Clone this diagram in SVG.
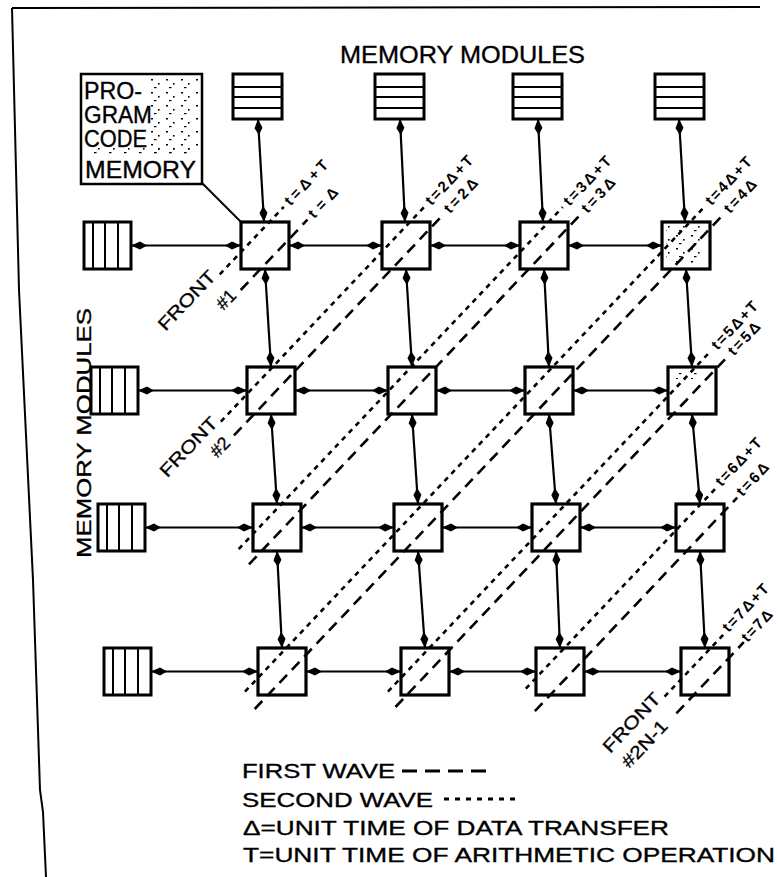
<svg xmlns="http://www.w3.org/2000/svg" width="778" height="877" viewBox="0 0 778 877">
<defs>
<style>
text{font-family:"Liberation Sans",Arial,Helvetica,sans-serif;fill:#000}
.frame{fill:none;stroke:#000;stroke-width:2}
.box{fill:#fff;stroke:#000;stroke-width:3.2}
.mod{fill:#fff;stroke:#000;stroke-width:3}
.stripe{stroke:#000;stroke-width:2;fill:none}
.conn{stroke:#000;stroke-width:2.2;fill:none;marker-start:url(#ah);marker-end:url(#ah)}
.w1{stroke:#000;stroke-width:2.6;fill:none;stroke-dasharray:11 7}
.w2{stroke:#000;stroke-width:2.6;fill:none;stroke-dasharray:5 5}
.lbl{font-size:15px;font-weight:bold}
.front{font-size:18px;stroke:#000;stroke-width:0.3}
.title{font-size:24px;stroke:#000;stroke-width:0.35}
.leg{font-size:21px;stroke:#000;stroke-width:0.35}
.pgm{font-size:23px;stroke:#000;stroke-width:0.35}
</style>
<marker id="ah" viewBox="-17 -5 18 10" refX="0" refY="0" markerWidth="18" markerHeight="10" markerUnits="userSpaceOnUse" orient="auto-start-reverse">
<path d="M0,0 L-9,-4 L-16,0 L-9,4 Z" fill="#000"/>
</marker>
<pattern id="stip" width="15" height="13" patternUnits="userSpaceOnUse">
<rect x="1" y="1" width="2" height="1.5" fill="#000"/>
<rect x="8" y="5" width="1.6" height="1.6" fill="#000"/>
<rect x="4" y="9" width="2.5" height="1.2" fill="#000"/>
</pattern>
</defs>

<g id="frame">
<polyline class="frame" points="12,8 760,7"/>
<polyline class="frame" points="12,8 19,290 33,580 40,790 43,812 46,877"/>
</g>

<text id="title-top" class="title" x="340" y="63" textLength="245" lengthAdjust="spacingAndGlyphs">MEMORY MODULES</text>
<text id="title-left" class="title" transform="translate(91 433) rotate(-90)" x="-125" y="0" style="font-size:21px" textLength="250" lengthAdjust="spacingAndGlyphs">MEMORY MODULES</text>

<g id="pgm-mem">
<rect x="81" y="74" width="121" height="110" fill="#fff" stroke="#000" stroke-width="2.5"/>
<rect x="145" y="78" width="54" height="78" fill="url(#stip)"/>
<rect x="86" y="148" width="104" height="7" fill="url(#stip)"/>
<text class="pgm" x="84" y="99" textLength="58" lengthAdjust="spacingAndGlyphs">PRO-</text>
<text class="pgm" x="84" y="123" textLength="68" lengthAdjust="spacingAndGlyphs">GRAM</text>
<text class="pgm" x="84" y="147" textLength="63" lengthAdjust="spacingAndGlyphs">CODE</text>
<text class="pgm" x="85" y="178" textLength="111" lengthAdjust="spacingAndGlyphs">MEMORY</text>
<line x1="202" y1="183" x2="241" y2="222" stroke="#000" stroke-width="2"/>
</g>

<g id="mm-top-1"><rect class="mod" x="233" y="74" width="49" height="45"/><path class="stripe" d="M233,87H282M233,97H282M233,108H282"/></g>
<g id="mm-top-2"><rect class="mod" x="375" y="74" width="49" height="45"/><path class="stripe" d="M375,87H424M375,97H424M375,108H424"/></g>
<g id="mm-top-3"><rect class="mod" x="513" y="74" width="49" height="45"/><path class="stripe" d="M513,87H562M513,97H562M513,108H562"/></g>
<g id="mm-top-4"><rect class="mod" x="655" y="74" width="49" height="45"/><path class="stripe" d="M655,87H704M655,97H704M655,108H704"/></g>

<g id="mm-left-1"><rect class="mod" x="84" y="222" width="47" height="47"/><path class="stripe" d="M93,222V269M105,222V269M118,222V269"/></g>
<g id="mm-left-2"><rect class="mod" x="91" y="367" width="47" height="47"/><path class="stripe" d="M100,367V414M112,367V414M125,367V414"/></g>
<g id="mm-left-3"><rect class="mod" x="98" y="504" width="47" height="47"/><path class="stripe" d="M107,504V551M119,504V551M132,504V551"/></g>
<g id="mm-left-4"><rect class="mod" x="104" y="648" width="47" height="47"/><path class="stripe" d="M113,648V695M125,648V695M138,648V695"/></g>

<g id="pe-1-1"><rect class="box" x="241" y="222" width="48" height="47"/></g>
<g id="pe-1-2"><rect class="box" x="382" y="222" width="48" height="47"/></g>
<g id="pe-1-3"><rect class="box" x="520" y="222" width="48" height="47"/></g>
<g id="pe-1-4"><rect class="box" x="662" y="222" width="48" height="47"/><rect x="666" y="226" width="40" height="38" fill="url(#stip)"/></g>
<g id="pe-2-1"><rect class="box" x="247" y="367" width="48" height="47"/></g>
<g id="pe-2-2"><rect class="box" x="388" y="367" width="48" height="47"/></g>
<g id="pe-2-3"><rect class="box" x="525" y="367" width="48" height="47"/></g>
<g id="pe-2-4"><rect class="box" x="668" y="367" width="48" height="47"/><rect x="676" y="371" width="30" height="8" fill="url(#stip)"/></g>
<g id="pe-3-1"><rect class="box" x="253" y="504" width="48" height="47"/></g>
<g id="pe-3-2"><rect class="box" x="394" y="504" width="48" height="47"/></g>
<g id="pe-3-3"><rect class="box" x="532" y="504" width="48" height="47"/></g>
<g id="pe-3-4"><rect class="box" x="676" y="504" width="48" height="47"/></g>
<g id="pe-4-1"><rect class="box" x="258" y="648" width="48" height="47"/></g>
<g id="pe-4-2"><rect class="box" x="401" y="648" width="48" height="47"/></g>
<g id="pe-4-3"><rect class="box" x="536" y="648" width="48" height="47"/></g>
<g id="pe-4-4"><rect class="box" x="681" y="648" width="48" height="47"/></g>

<g id="connectors">
<line class="conn" x1="131" y1="245.5" x2="241" y2="245.5"/>
<line class="conn" x1="289" y1="245.5" x2="382" y2="245.5"/>
<line class="conn" x1="430" y1="245.5" x2="520" y2="245.5"/>
<line class="conn" x1="568" y1="245.5" x2="662" y2="245.5"/>
<line class="conn" x1="138" y1="390.5" x2="247" y2="390.5"/>
<line class="conn" x1="295" y1="390.5" x2="388" y2="390.5"/>
<line class="conn" x1="436" y1="390.5" x2="525" y2="390.5"/>
<line class="conn" x1="573" y1="390.5" x2="668" y2="390.5"/>
<line class="conn" x1="145" y1="527.5" x2="253" y2="527.5"/>
<line class="conn" x1="301" y1="527.5" x2="394" y2="527.5"/>
<line class="conn" x1="442" y1="527.5" x2="532" y2="527.5"/>
<line class="conn" x1="580" y1="527.5" x2="676" y2="527.5"/>
<line class="conn" x1="151" y1="671.5" x2="258" y2="671.5"/>
<line class="conn" x1="306" y1="671.5" x2="401" y2="671.5"/>
<line class="conn" x1="449" y1="671.5" x2="536" y2="671.5"/>
<line class="conn" x1="584" y1="671.5" x2="681" y2="671.5"/>
<line class="conn" x1="258" y1="119" x2="264" y2="222"/>
<line class="conn" x1="265" y1="269" x2="271" y2="367"/>
<line class="conn" x1="271" y1="414" x2="277" y2="504"/>
<line class="conn" x1="277" y1="551" x2="282" y2="648"/>
<line class="conn" x1="400" y1="119" x2="405" y2="222"/>
<line class="conn" x1="406" y1="269" x2="412" y2="367"/>
<line class="conn" x1="412" y1="414" x2="418" y2="504"/>
<line class="conn" x1="418" y1="551" x2="425" y2="648"/>
<line class="conn" x1="538" y1="119" x2="543" y2="222"/>
<line class="conn" x1="544" y1="269" x2="549" y2="367"/>
<line class="conn" x1="549" y1="414" x2="556" y2="504"/>
<line class="conn" x1="556" y1="551" x2="560" y2="648"/>
<line class="conn" x1="679" y1="119" x2="685" y2="222"/>
<line class="conn" x1="686" y1="269" x2="692" y2="367"/>
<line class="conn" x1="692" y1="414" x2="700" y2="504"/>
<line class="conn" x1="700" y1="551" x2="705" y2="648"/>
</g>

<g id="wavefronts">
<line class="w2" x1="219.8" y1="274.3" x2="283.8" y2="206.8"/>
<line class="w1" x1="240.7" y1="290.0" x2="307.5" y2="219.6"/>
<line class="w2" x1="220.9" y1="421.6" x2="424.5" y2="206.7"/>
<line class="w1" x1="234.0" y1="435.4" x2="443.2" y2="214.7"/>
<line class="w2" x1="238.7" y1="549.1" x2="562.7" y2="207.1"/>
<line class="w1" x1="249.0" y1="564.3" x2="580.6" y2="214.4"/>
<line class="w2" x1="245.0" y1="691.6" x2="704.6" y2="206.6"/>
<line class="w1" x1="254.7" y1="709.0" x2="723.2" y2="214.6"/>
<line class="w2" x1="388.0" y1="691.6" x2="710.7" y2="351.1"/>
<line class="w1" x1="395.5" y1="707.0" x2="727.2" y2="357.0"/>
<line class="w2" x1="525.8" y1="688.7" x2="716.4" y2="487.6"/>
<line class="w1" x1="534.9" y1="711.1" x2="737.2" y2="497.6"/>
<line class="w2" x1="664.6" y1="696.6" x2="724.5" y2="633.5"/>
<line class="w1" x1="676.4" y1="713.3" x2="743.8" y2="642.2"/>
</g>

<g id="time-labels">
<text class="lbl" transform="translate(290.6 206.4) rotate(-46.5)" textLength="56">t=Δ+T</text>
<text class="lbl" transform="translate(314.3 219.2) rotate(-46.5)" textLength="36">t=Δ</text>
<text class="lbl" transform="translate(431.4 206.3) rotate(-46.5)" textLength="62">t=2Δ+T</text>
<text class="lbl" transform="translate(450.0 214.3) rotate(-46.5)" textLength="42">t=2Δ</text>
<text class="lbl" transform="translate(569.6 206.7) rotate(-46.5)" textLength="62">t=3Δ+T</text>
<text class="lbl" transform="translate(587.5 214.0) rotate(-46.5)" textLength="42">t=3Δ</text>
<text class="lbl" transform="translate(711.5 206.2) rotate(-46.5)" textLength="60">t=4Δ+T</text>
<text class="lbl" transform="translate(730.1 214.2) rotate(-46.5)" textLength="40">t=4Δ</text>
<text class="lbl" transform="translate(717.6 350.7) rotate(-46.5)" textLength="60">t=5Δ+T</text>
<text class="lbl" transform="translate(734.0 356.6) rotate(-46.5)" textLength="40">t=5Δ</text>
<text class="lbl" transform="translate(721.5 487.2) rotate(-46.5)" textLength="60">t=6Δ+T</text>
<text class="lbl" transform="translate(742.5 497.3) rotate(-46.5)" textLength="40">t=6Δ</text>
<text class="lbl" transform="translate(728.5 633.1) rotate(-46.5)" textLength="60">t=7Δ+T</text>
<text class="lbl" transform="translate(747.5 643.0) rotate(-46.5)" textLength="38">t=7Δ</text>
</g>

<g id="front-labels">
<text class="front" transform="translate(165.4 331.7) rotate(-46.5)" textLength="75" lengthAdjust="spacingAndGlyphs">FRONT</text>
<text class="front" transform="translate(223.6 311.0) rotate(-46.5)" textLength="20" lengthAdjust="spacingAndGlyphs">#1</text>
<text class="front" transform="translate(167.2 478.2) rotate(-46.5)" textLength="75" lengthAdjust="spacingAndGlyphs">FRONT</text>
<text class="front" transform="translate(217.6 458.4) rotate(-46.5)" textLength="20" lengthAdjust="spacingAndGlyphs">#2</text>
<text class="front" transform="translate(610.3 754.0) rotate(-46.5)" textLength="75" lengthAdjust="spacingAndGlyphs">FRONT</text>
<text class="front" transform="translate(629.1 769.1) rotate(-46.5)" textLength="58" lengthAdjust="spacingAndGlyphs">#2N-1</text>
</g>

<g id="legend">
<text class="leg" x="242" y="778" textLength="153" lengthAdjust="spacingAndGlyphs">FIRST WAVE</text>
<line x1="402" y1="771" x2="488" y2="771" stroke="#000" stroke-width="3" stroke-dasharray="15 8"/>
<text class="leg" x="242" y="807" textLength="191" lengthAdjust="spacingAndGlyphs">SECOND WAVE</text>
<line x1="444" y1="799" x2="520" y2="799" stroke="#000" stroke-width="3" stroke-dasharray="5 6"/>
<text class="leg" x="243" y="835" textLength="426" lengthAdjust="spacingAndGlyphs">Δ=UNIT TIME OF DATA TRANSFER</text>
<text class="leg" x="243" y="862" textLength="532" lengthAdjust="spacingAndGlyphs">T=UNIT TIME OF ARITHMETIC OPERATION</text>
</g>
</svg>
